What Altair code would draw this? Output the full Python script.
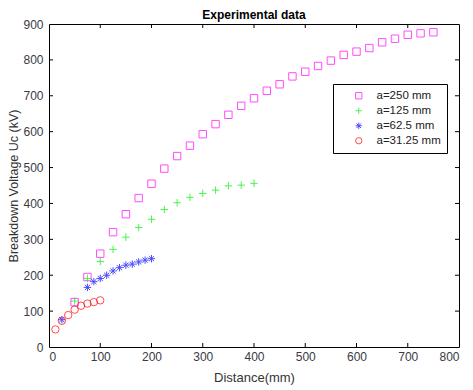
import altair as alt
import pandas as pd

x250 = [50, 75, 100, 125, 150, 175, 200, 225, 250, 275, 300, 325, 350, 375, 400,
        425, 450, 475, 500, 525, 550, 575, 600, 625, 650, 675, 700, 725, 750]
y250 = [125, 195, 260, 320, 370, 415, 455, 497, 532, 561, 593, 621, 647, 672, 693,
        714, 732, 754, 767, 783, 798, 814, 823, 833, 849, 859, 870, 874, 877]
x125 = [50, 75, 100, 125, 150, 175, 200, 225, 250, 275, 300, 325, 350, 375, 400]
y125 = [128, 191, 238, 272, 306, 333, 356, 383, 402, 417, 428, 437, 449, 451, 456]
x62 = [25, 75, 87.5, 100, 112.5, 125, 137.5, 150, 162.5, 175, 187.5, 200]
y62 = [76, 166, 182, 191, 200, 212, 221, 228, 231, 237, 242, 246]
x31 = [12.5, 25, 37.5, 50, 62.5, 75, 87.5, 100]
y31 = [49, 73, 89, 104, 115, 121, 125, 130]

labels = ["a=250 mm", "a=125 mm", "a=62.5 mm", "a=31.25 mm"]
colors = ["#FF00FF", "#00EE00", "#0000FF", "#FF0000"]
x_ticks = [0, 100, 200, 300, 400, 500, 600, 700, 800]
y_ticks = [0, 100, 200, 300, 400, 500, 600, 700, 800, 900]

rows = []
for lab, xs, ys in zip(labels, [x250, x125, x62, x31], [y250, y125, y62, y31]):
    for a, b in zip(xs, ys):
        rows.append({"Distance": a, "Voltage": b, "series": lab})
df = pd.DataFrame(rows)

W, H = 410, 323
plus = "M-1,0H1M0,-1V1"
star = "M-1,0H1M0,-1V1M-0.7,-0.7L0.7,0.7M-0.7,0.7L0.7,-0.7"

xscale = alt.Scale(domain=[0, 800], nice=False)
yscale = alt.Scale(domain=[0, 900], nice=False)
xaxis = alt.Axis(values=x_ticks, domain=False, ticks=False, grid=False,
                 labelPadding=4, labelOverlap=False, titlePadding=9)
yaxis = alt.Axis(values=y_ticks, domain=False, ticks=False, grid=False,
                 labelPadding=6, labelOverlap=False, titlePadding=2, titleFontSize=12.5)
XT = "Distance(mm)"
YT = "Breakdown Voltage Uc (kV)"

points = alt.Chart(df).mark_point(filled=False, strokeWidth=1, size=55).encode(
    x=alt.X("Distance:Q", scale=xscale, title=XT, axis=xaxis),
    y=alt.Y("Voltage:Q", scale=yscale, title=YT, axis=yaxis),
    color=alt.Color("series:N", scale=alt.Scale(domain=labels, range=colors),
                    legend=alt.Legend(title=None, orient="none", legendX=284, legendY=60,
                                      strokeColor="black", fillColor="white",
                                      padding=6, symbolOffset=14, labelOffset=12,
                                      labelFontSize=11.5, rowPadding=2,
                                      symbolStrokeWidth=1, symbolSize=40,
                                      labelFont="Liberation Sans", labelColor="#222")),
    shape=alt.Shape("series:N", scale=alt.Scale(domain=labels,
                    range=["square", plus, star, "circle"]), legend=None),
    order=alt.Order("idx:Q"),
).transform_calculate(idx="indexof(['a=250 mm','a=125 mm','a=62.5 mm','a=31.25 mm'], datum.series)")

xt = pd.DataFrame({"v": x_ticks[1:-1]})
yt = pd.DataFrame({"v": y_ticks[1:-1]})
tb = alt.Chart(xt).mark_rule(color="black").encode(x=alt.X("v:Q", scale=xscale, title=XT, axis=xaxis), y=alt.value(H), y2=alt.value(H - 4))
tt = alt.Chart(xt).mark_rule(color="black").encode(x=alt.X("v:Q", scale=xscale, title=XT, axis=xaxis), y=alt.value(0), y2=alt.value(4))
tl = alt.Chart(yt).mark_rule(color="black").encode(y=alt.Y("v:Q", scale=yscale, title=YT, axis=yaxis), x=alt.value(0), x2=alt.value(4))
tr = alt.Chart(yt).mark_rule(color="black").encode(y=alt.Y("v:Q", scale=yscale, title=YT, axis=yaxis), x=alt.value(W), x2=alt.value(W - 4))

title_df = pd.DataFrame({"t": ["Experimental data"]})
title = alt.Chart(title_df).mark_text(font="Liberation Sans", fontSize=12, fontWeight="bold",
                                      color="black", baseline="alphabetic", align="center").encode(
    text="t:N", x=alt.value(W / 2), y=alt.value(-5))

chart = alt.layer(points, tb, tt, tl, tr, title).properties(
    width=W, height=H,
    autosize="none",
    padding={"left": 41, "top": 16, "right": 6, "bottom": 40},
).configure_view(stroke="black", strokeWidth=1).configure_axis(
    labelFont="Liberation Sans", labelFontSize=12, labelColor="#3a3a44",
    titleFont="Liberation Sans", titleFontSize=13, titleFontWeight="normal", titleColor="#333",
)

chart.save("out.html", embed_options={"renderer": "svg", "actions": False})
